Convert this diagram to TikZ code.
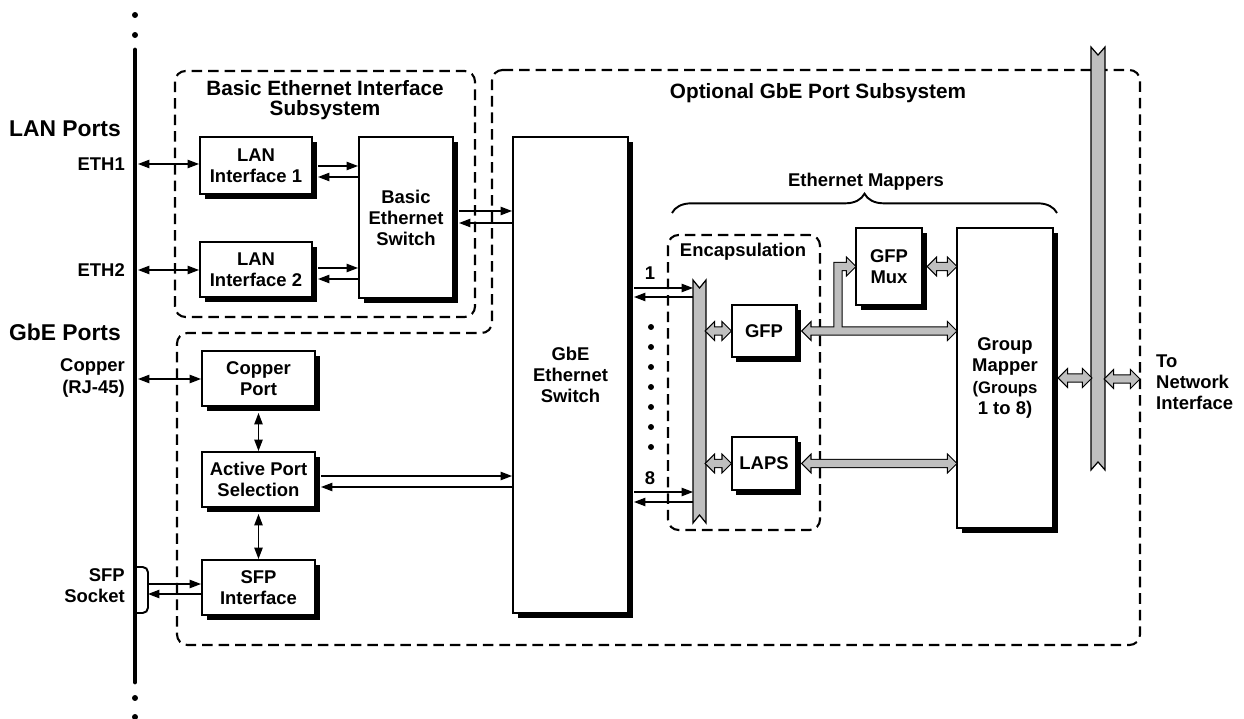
\documentclass[tikz,border=0pt]{standalone}
\usepackage{fontspec}
\setmainfont{Liberation Sans}
\usetikzlibrary{positioning,arrows.meta,shadows,calc,decorations.pathreplacing}

\newcommand{\fatpath}[3]{%
  \path[#1] let \p1=(#2), \p2=(#3) in
    (\x1,\y1) -- (\x1+4.5pt,\y1+4.5pt) -- (\x1+4.5pt,\y1+2pt)
    -- (\x2-4.5pt,\y1+2pt) -- (\x2-4.5pt,\y1+4.5pt) -- (\x2,\y1)
    -- (\x2-4.5pt,\y1-4.5pt) -- (\x2-4.5pt,\y1-2pt)
    -- (\x1+4.5pt,\y1-2pt) -- (\x1+4.5pt,\y1-4.5pt) -- cycle;}
\newcommand{\fatbranch}[3]{%
  \path[#1] let \p1=(#2), \p2=(#3) in
    (\x1-2pt,\y1) -- (\x1-2pt,\y2+2pt) -- (\x2-4.5pt,\y2+2pt) -- (\x2-4.5pt,\y2+4.5pt)
    -- (\x2,\y2) -- (\x2-4.5pt,\y2-4.5pt) -- (\x2-4.5pt,\y2-2pt) -- (\x1+2pt,\y2-2pt)
    -- (\x1+2pt,\y1) -- cycle;}
\newcommand{\fatlink}[2]{\fatpath{fatedge}{#1}{#2}\fatpath{fatcore}{#1}{#2}}

\begin{document}
\begin{tikzpicture}[x=0.02cm, y=-0.02cm,
    font=\bfseries\fontsize{10.5}{12}\selectfont,
    every node/.style={align=center},
    blk/.style={draw, line width=1.15pt, fill=white, inner sep=0pt,
                drop shadow={shadow xshift=2.8pt, shadow yshift=-2.8pt, fill=black, opacity=1}},
    ghost/.style={inner sep=0pt, outer sep=0pt},
    busbar/.style={draw, line width=0.7pt, fill=gray!50},
    grp/.style={draw, line width=1.2pt, dash pattern=on 6pt off 3.4pt, rounded corners=6pt},
    ttl/.style={font=\bfseries\fontsize{11.8}{11.5}\selectfont},
    port/.style={font=\bfseries\fontsize{13}{15}\selectfont, anchor=east},
    lbl/.style={anchor=east, align=right},
    fwd/.style={line width=0.65pt, -{Triangle[length=6.5pt,width=4.8pt]}},
    both/.style={line width=0.65pt, {Triangle[length=6.5pt,width=4.8pt]}-{Triangle[length=6.5pt,width=4.8pt]}},
    fatedge/.style={draw=black, line width=1.3pt},
    fatcore/.style={fill=gray!50}]
  \useasboundingbox (0,0) rectangle (1244,719);

  % subsystems
  \draw[grp] (175,71) rectangle (475,317);
  \draw[grp] (492,70) -- (1140,70) -- (1140,645) -- (177,645) -- (177,333) -- (492,333) -- cycle;
  \draw[grp] (668,235) rectangle (820,530);
  \node[ttl] (bsub) at (325,100) {Basic Ethernet Interface\\Subsystem};
  \node[ttl] (osub) at (818,93) {Optional GbE Port Subsystem};
  \node (encl) at (743,252) {Encapsulation};

  % port bus
  \draw[line width=2.8pt, line cap=round] (135,50) -- (135,682);
  \foreach \y in {15,35,698,717} \fill (135,\y) circle (1.7pt);
  \node[port] (lanp) at (127,129) {LAN Ports};
  \node[port] (gbep) at (127,332) {GbE Ports};
  \node[lbl] (eth1) at (131,164) {ETH1};
  \node[lbl] (eth2) at (131,270) {ETH2};
  \node[lbl] (copl) at (131,378) {Copper\\(RJ-45)};
  \node[lbl] (sfpl) at (131,586) {SFP\\Socket};
  \draw[line width=1.1pt, rounded corners=3pt] (137,567) -- (148,567) -- (148,613) -- (137,613);
  \coordinate (sock) at (148,589);
  \coordinate (p1) at (138,164);
  \coordinate (p2) at (138,270);
  \coordinate (pc) at (138,379);

  % blocks
  \node[blk, minimum width=2.24cm, minimum height=1.14cm] (lan1) at (256,165.5) {LAN\\Interface 1};
  \node[blk, minimum width=2.24cm, minimum height=1.10cm] (lan2) at (256,269.5) {LAN\\Interface 2};
  \node[blk, minimum width=1.88cm, minimum height=3.22cm] (bsw) at (406,217.5) {Basic\\Ethernet\\Switch};
  \node[blk, minimum width=2.30cm, minimum height=9.52cm] (gsw) at (570.5,375) {GbE\\Ethernet\\Switch};
  \node[blk, minimum width=2.26cm, minimum height=1.10cm] (cpp) at (258.5,378.5) {Copper\\Port};
  \node[blk, minimum width=2.26cm, minimum height=1.10cm] (aps) at (258.5,479.5) {Active Port\\Selection};
  \node[blk, minimum width=2.26cm, minimum height=1.10cm] (sfp) at (258.5,587.5) {SFP\\Interface};
  \node[blk, minimum width=1.30cm, minimum height=1.04cm] (gfp) at (764,331) {GFP};
  \node[blk, minimum width=1.30cm, minimum height=1.05cm] (laps) at (764,463.5) {LAPS};
  \node[blk, minimum width=1.32cm, minimum height=1.54cm] (mux) at (889,266.5) {GFP\\Mux};
  \node[blk, minimum width=1.92cm, minimum height=6.00cm] (gmap) at (1005,378)
    {Group\\Mapper\\\fontsize{9.5}{11}\selectfont(Groups\\1 to 8)};

  % gray buses
  \node[ghost, minimum width=0.26cm, minimum height=4.86cm] (ebus) at (699.5,401.5) {};
  \node[ghost, minimum width=0.28cm, minimum height=8.46cm] (nbus) at (1098,258.5) {};
  \foreach \b in {ebus,nbus}
    \draw[busbar] (\b.north west) -- ($(\b.north)+(0,8)$) -- (\b.north east)
      -- (\b.south east) -- ($(\b.south)+(0,-8)$) -- (\b.south west) -- cycle;
  \coordinate (netout) at (1139,379);
  \node[anchor=west, align=left] (netl) at (1150,382) {To\\Network\\Interface};

  % ethernet mappers
  \draw[line width=1.1pt, decorate, decoration={brace, amplitude=11pt}] (672,213) -- (1057,213);
  \node (emap) at (866,182) {Ethernet Mappers};

  % thin links
  \draw[both] (p1) -- (lan1.west |- p1);
  \draw[both] (p2) -- (lan2.west |- p2);
  \draw[both] (pc) -- (cpp.west |- pc);
  \draw[fwd] (sock |- 0,584) -- (sfp.west |- 0,584);
  \draw[fwd] (sfp.west |- 0,594) -- (sock |- 0,594);
  \draw[both] ($(cpp.south)+(0,6)$) -- (aps.north);
  \draw[both] ($(aps.south)+(0,6)$) -- (sfp.north);
  \foreach \a/\b/\ya/\yb in {lan1/bsw/166/177, lan2/bsw/268/279, bsw/gsw/211/223,
                            aps/gsw/476/487, gsw/ebus/288/297, gsw/ebus/492/502} {
    \draw[fwd] ($(\a.east |- 0,\ya)+(5,0)$) -- (\b.west |- 0,\ya);
    \draw[fwd] (\b.west |- 0,\yb) -- ($(\a.east |- 0,\yb)+(5,0)$);
  }
  \node (n1) at (650,273) {1};
  \node (n8) at (650,478) {8};
  \foreach \y in {327,347,...,447} \fill (651,\y) circle (1.7pt);

  % fat links
  \coordinate (br) at (838,331);
  \fatlink{ebus.east |- gfp.west}{gfp.west}
  \fatlink{ebus.east |- laps.west}{laps.west}
  \fatpath{fatedge}{$(gfp.east)+(5,0)$}{gmap.west |- gfp.east}
  \fatbranch{fatedge}{br}{mux.west}
  \fatpath{fatcore}{$(gfp.east)+(5,0)$}{gmap.west |- gfp.east}
  \fatbranch{fatcore}{br}{mux.west}
  \fatlink{$(mux.east)+(5,0)$}{gmap.west |- mux.east}
  \fatlink{$(laps.east)+(5,0)$}{gmap.west |- laps.east}
  \fatlink{$(gmap.east)+(5,0)$}{nbus.west |- netout}
  \fatlink{nbus.east |- netout}{netout}
\end{tikzpicture}
\end{document}
